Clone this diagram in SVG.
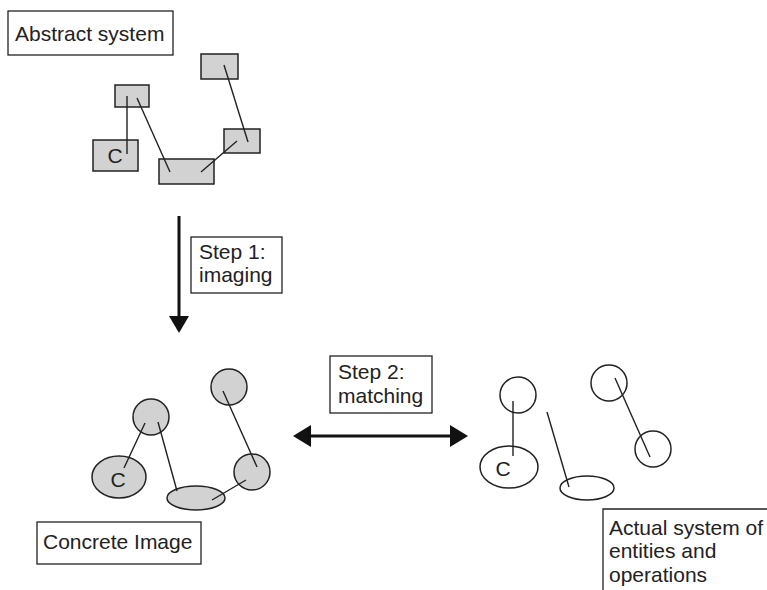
<svg xmlns="http://www.w3.org/2000/svg" width="767" height="590" viewBox="0 0 767 590">
<style>
.lbl{fill:#fff;stroke:#222;stroke-width:1.3}
.g{fill:#d1d2d1;stroke:#222;stroke-width:1.5}
.w{fill:none;stroke:#222;stroke-width:1.5}
.ln{stroke:#222;stroke-width:1.4;fill:none}
.ar{stroke:#111;stroke-width:3;fill:none}
.hd{fill:#111}
text{font-family:"Liberation Sans",Arial,sans-serif;font-size:21px;fill:#222}
</style>
<rect width="767" height="590" fill="#fff"/>
<g id="label-abstract"><rect class="lbl" x="8" y="11" width="165" height="44"/><text x="15" y="41">Abstract system</text></g>
<g id="abstract-nodes">
<g id="a1"><rect class="g" x="201" y="54" width="37" height="25"/></g>
<g id="a2"><rect class="g" x="115" y="85" width="34" height="22"/></g>
<g id="a3"><rect class="g" x="93" y="140" width="45" height="31"/><text x="115" y="163" text-anchor="middle">C</text></g>
<g id="a4"><rect class="g" x="159" y="159" width="55" height="25"/></g>
<g id="a5"><rect class="g" x="224" y="129" width="36" height="24"/></g>
</g>
<g id="label-step1"><rect class="lbl" x="191" y="237" width="91" height="56"/><text x="199" y="259">Step 1:</text><text x="199" y="282">imaging</text></g>
<g id="concrete-nodes">
<g id="c1"><circle class="g" cx="229" cy="387" r="18"/></g>
<g id="c2"><circle class="g" cx="151" cy="417" r="18"/></g>
<g id="c3"><ellipse class="g" cx="119" cy="477" rx="27" ry="21"/><text x="118" y="487" text-anchor="middle">C</text></g>
<g id="c4"><ellipse class="g" cx="196" cy="498" rx="29" ry="12"/></g>
<g id="c5"><circle class="g" cx="252" cy="472" r="18"/></g>
</g>
<g id="label-concrete"><rect class="lbl" x="37" y="522" width="164" height="42"/><text x="43" y="549">Concrete Image</text></g>
<g id="label-step2"><rect class="lbl" x="330" y="356" width="102" height="57"/><text x="338" y="379">Step 2:</text><text x="338" y="403">matching</text></g>
<g id="actual-nodes">
<g id="r1"><circle class="w" cx="518" cy="395" r="18"/></g>
<g id="r2"><ellipse class="w" cx="509" cy="467" rx="29" ry="21"/><text x="503" y="476" text-anchor="middle">C</text></g>
<g id="r3"><ellipse class="w" cx="587" cy="488" rx="27" ry="12"/></g>
<g id="r4"><circle class="w" cx="609" cy="383" r="18"/></g>
<g id="r5"><circle class="w" cx="653" cy="449" r="18"/></g>
</g>
<g id="label-actual"><path class="lbl" d="M603 590 V509 H767" fill="none"/><text x="609" y="535">Actual system of</text><text x="609" y="558">entities and</text><text x="609" y="582">operations</text></g>
<g id="connectors">
<line class="ln" x1="127" y1="96" x2="127" y2="154"/>
<line class="ln" x1="137" y1="98" x2="170" y2="172"/>
<line class="ln" x1="201" y1="172" x2="237" y2="141"/>
<line class="ln" x1="224" y1="65" x2="248" y2="142"/>
<line class="ln" x1="145" y1="423" x2="124" y2="468"/>
<line class="ln" x1="158" y1="422" x2="177" y2="491"/>
<line class="ln" x1="223" y1="391" x2="257" y2="467"/>
<line class="ln" x1="212" y1="500" x2="246" y2="480"/>
<line class="ln" x1="513" y1="401" x2="513" y2="456"/>
<line class="ln" x1="547" y1="412" x2="569" y2="487"/>
<line class="ln" x1="615" y1="378" x2="650" y2="457"/>
<line class="ar" x1="179" y1="216" x2="179" y2="318"/>
<polygon class="hd" points="169,316 189,316 179,333"/>
<line class="ar" x1="308" y1="436" x2="453" y2="436"/>
<polygon class="hd" points="293,436 311,425 311,447"/>
<polygon class="hd" points="468,436 450,425 450,447"/>
</g>
</svg>
